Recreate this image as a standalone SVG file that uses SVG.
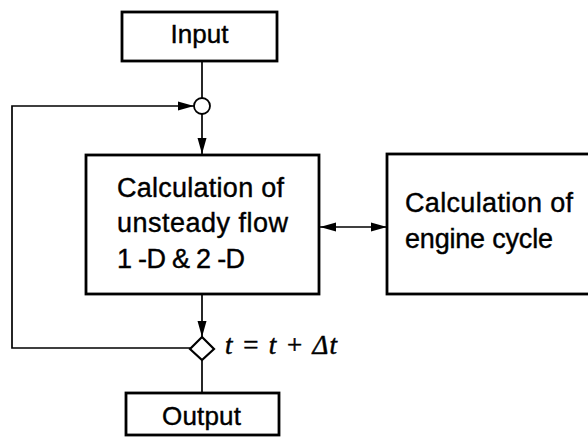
<svg xmlns="http://www.w3.org/2000/svg" width="588" height="440" viewBox="0 0 588 440">
<style>
.box{fill:#fff;stroke:#000;stroke-width:2.8}
.lbl{font-family:"Liberation Sans",Arial,sans-serif;font-size:26px;fill:#000;stroke:#000;stroke-width:0.4}
.big{font-family:"Liberation Sans",Arial,sans-serif;font-size:27px;fill:#000;stroke:#000;stroke-width:0.4}
.ln{fill:none;stroke:#000;stroke-width:1.7}
.eq{font-family:"Liberation Serif","Times New Roman",serif;font-style:italic;font-size:27px;fill:#000;stroke:#000;stroke-width:0.5}
</style>
<defs>
<marker id="ahL" viewBox="0 0 16 10" refX="16" refY="5" markerWidth="16" markerHeight="10" markerUnits="userSpaceOnUse" orient="auto-start-reverse">
<path d="M0,0.5 L16,5 L0,9.5 z" fill="#000"/>
</marker>
</defs>
<rect width="588" height="440" fill="#fff"/>
<g id="connectors">
<line class="ln" x1="202" y1="61" x2="202" y2="98"/>
<line class="ln" x1="202" y1="114" x2="202" y2="154" marker-end="url(#ahL)"/>
<polyline class="ln" points="191,348 12,348 12,106 194,106" marker-end="url(#ahL)"/>
<line class="ln" x1="202" y1="295" x2="202" y2="337" marker-end="url(#ahL)"/>
<line class="ln" x1="202" y1="360" x2="202" y2="393"/>
<line class="ln" x1="320" y1="227" x2="387" y2="227" marker-start="url(#ahL)" marker-end="url(#ahL)"/>
</g>
<g id="input">
<rect class="box" x="122" y="12" width="155" height="49"/>
<text class="lbl" x="199.5" y="43" text-anchor="middle">Input</text>
</g>
<g id="junction">
<circle cx="202" cy="106" r="8" fill="#fff" stroke="#000" stroke-width="1.8"/>
</g>
<g id="unsteady">
<rect class="box" x="86" y="155" width="233" height="139"/>
<text class="big" x="117" y="197" textLength="167">Calculation of</text>
<text class="big" x="117" y="232" textLength="171">unsteady flow</text>
<text class="big" x="117" y="268" textLength="128">1 -D &amp; 2 -D</text>
</g>
<g id="engine">
<rect class="box" x="387" y="154" width="205" height="140"/>
<text class="big" x="405" y="212" textLength="168">Calculation of</text>
<text class="big" x="405" y="248" textLength="148">engine  cycle</text>
</g>
<g id="decision">
<polygon points="202,337 214,349 202,360 190,349" fill="#fff" stroke="#000" stroke-width="2.2"/>
<text class="eq" x="225" y="354" textLength="112">t = t + Δt</text>
</g>
<g id="output">
<rect class="box" x="126" y="393" width="153" height="42"/>
<text class="lbl" x="162" y="425" textLength="79">Output</text>
</g>
</svg>
